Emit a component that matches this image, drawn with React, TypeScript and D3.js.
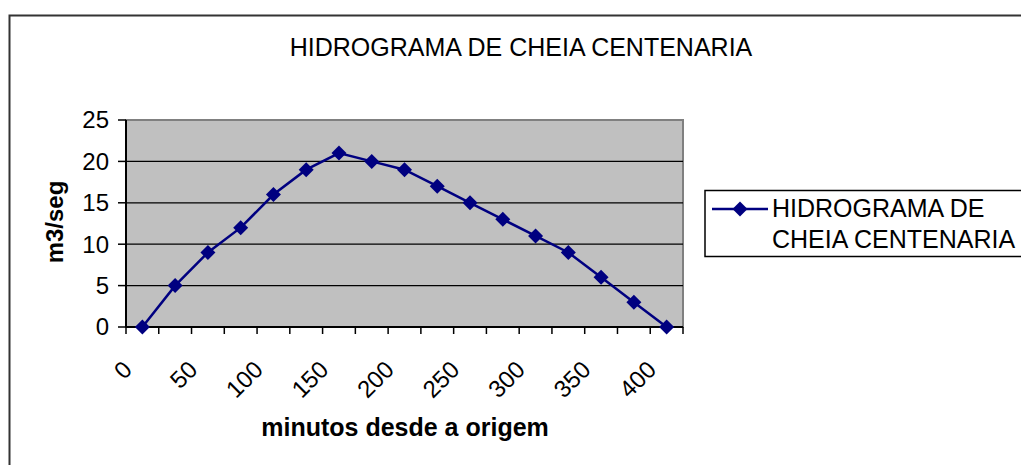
import * as d3 from "d3";

// minutos desde a origem (categorias) e vazão (m3/seg)
const minutos = [0, 25, 50, 75, 100, 125, 150, 175, 200, 225, 250, 275, 300, 325, 350, 375, 400];
const vazao = [0, 5, 9, 12, 16, 19, 21, 20, 19, 17, 15, 13, 11, 9, 6, 3, 0];
const yTicks = [0, 5, 10, 15, 20, 25];

const title = "HIDROGRAMA DE CHEIA CENTENARIA";
const seriesName = ["HIDROGRAMA DE", "CHEIA CENTENARIA"];

const W = 1021;
const H = 465;
const PLOT = { LEFT: 126, RIGHT: 683, TOP: 120, BOTTOM: 327 };
const NAVY = "#000080";
const FONT = "'Liberation Sans', Arial, sans-serif";

const diamond = (cx: number, cy: number, r: number) =>
  `M${cx},${cy - r}L${cx + r},${cy}L${cx},${cy + r}L${cx - r},${cy}Z`;

const App = () => {
  const x = d3
    .scaleBand<number>()
    .domain(minutos)
    .range([PLOT.LEFT, PLOT.RIGHT]);
  const y = d3.scaleLinear().domain([0, 25]).range([PLOT.BOTTOM, PLOT.TOP]);

  const cx = (m: number) => (x(m) as number) + x.bandwidth() / 2;

  const line = d3
    .line<number>()
    .x((_, i) => cx(minutos[i]))
    .y((d) => y(d));

  // bordas das categorias, para as marcas do eixo x
  const edges = minutos.map((m) => x(m) as number).concat(PLOT.RIGHT);

  return (
    <svg
      width={W}
      height={H}
      style={{ position: "absolute", left: 0, top: 0, background: "#fff" }}
      fontFamily={FONT}
    >
      {/* borda externa do gráfico */}
      <rect x={9.5} y={15.5} width={W + 20} height={H + 20} fill="none" stroke="#333" strokeWidth={2} />

      <text x={521} y={56} textAnchor="middle" fontSize={25}>
        {title}
      </text>

      {/* área de plotagem */}
      <rect
        x={PLOT.LEFT}
        y={PLOT.TOP}
        width={PLOT.RIGHT - PLOT.LEFT}
        height={PLOT.BOTTOM - PLOT.TOP}
        fill="#C0C0C0"
        stroke="#808080"
        strokeWidth={2}
      />

      {yTicks.slice(1, -1).map((t) => (
        <line key={t} x1={PLOT.LEFT} x2={PLOT.RIGHT} y1={y(t)} y2={y(t)} stroke="#000" strokeWidth={1.2} />
      ))}

      {/* eixo y */}
      <line x1={PLOT.LEFT} x2={PLOT.LEFT} y1={PLOT.TOP} y2={PLOT.BOTTOM} stroke="#000" strokeWidth={2} />
      {yTicks.map((t) => (
        <g key={t}>
          <line x1={PLOT.LEFT - 8} x2={PLOT.LEFT} y1={y(t)} y2={y(t)} stroke="#000" strokeWidth={1.5} />
          <text x={PLOT.LEFT - 17} y={y(t)} dy="0.35em" textAnchor="end" fontSize={24}>
            {t}
          </text>
        </g>
      ))}

      {/* eixo x */}
      <line x1={PLOT.LEFT} x2={PLOT.RIGHT} y1={PLOT.BOTTOM} y2={PLOT.BOTTOM} stroke="#000" strokeWidth={2} />
      {edges.map((e, i) => (
        <line key={i} x1={e} x2={e} y1={PLOT.BOTTOM} y2={PLOT.BOTTOM + 7} stroke="#000" strokeWidth={1.5} />
      ))}
      {minutos.map((m, i) =>
        i % 2 === 0 ? (
          <text
            key={m}
            transform={`translate(${cx(m) - 9},${PLOT.BOTTOM + 44}) rotate(-45)`}
            textAnchor="end"
            fontSize={24}
          >
            {m}
          </text>
        ) : null
      )}

      {/* série */}
      <path d={line(vazao) ?? ""} fill="none" stroke={NAVY} strokeWidth={2.5} />
      {vazao.map((v, i) => (
        <path key={i} d={diamond(cx(minutos[i]), y(v), 7.5)} fill={NAVY} />
      ))}

      {/* títulos dos eixos */}
      <text x={405} y={436} textAnchor="middle" fontSize={25} fontWeight="bold">
        minutos desde a origem
      </text>
      <text
        transform={`translate(63,222) rotate(-90)`}
        textAnchor="middle"
        fontSize={24}
        fontWeight="bold"
      >
        m3/seg
      </text>

      {/* legenda */}
      <rect x={705} y={190.5} width={W} height={66} fill="#fff" stroke="#000" strokeWidth={1.5} />
      <line x1={712} x2={768} y1={209} y2={209} stroke={NAVY} strokeWidth={2.5} />
      <path d={diamond(740, 209, 7.5)} fill={NAVY} />
      {seriesName.map((s, i) => (
        <text key={s} x={772} y={217 + i * 31} fontSize={25}>
          {s}
        </text>
      ))}
    </svg>
  );
};

export default App;
